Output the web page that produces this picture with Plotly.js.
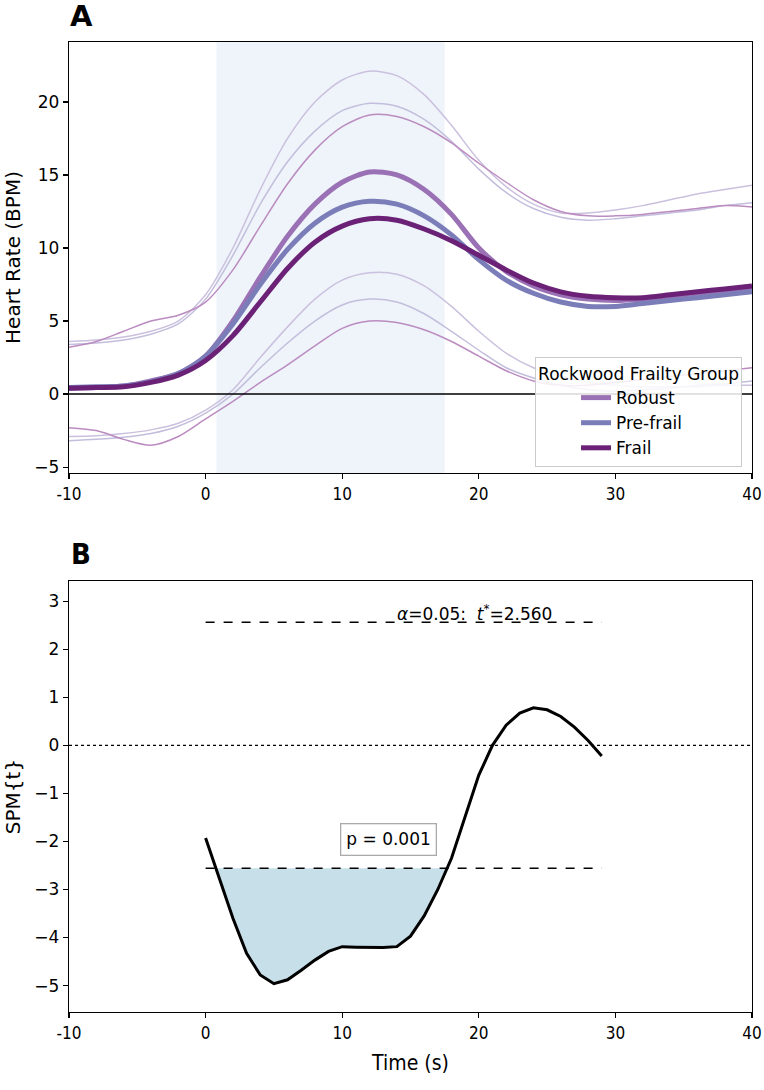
<!DOCTYPE html>
<html>
<head>
<meta charset="utf-8">
<script src="https://cdn.plot.ly/plotly-3.0.1.min.js"></script>
<style>html,body{margin:0;padding:0;background:#fff}#chart{width:764px;height:1090px}</style>
</head>
<body>
<div id="chart"></div>
<script>
// ---------- Panel A data (heart rate change, BPM) ----------
const time = [-10,-8,-6,-4,-2,0,2,4,6,8,10,12,14,16,18,20,22,24,26,28,30,32,34,36,38,40];
const groups = ["Robust","Pre-frail","Frail"];
const robustMean  = [0.4,0.45,0.55,0.9,1.4,2.6,5.0,8.0,10.8,13.0,14.5,15.2,15.0,14.0,12.3,10.0,8.4,7.4,6.8,6.5,6.4,6.5,6.7,6.9,7.1,7.3];
const prefrailMean= [0.45,0.5,0.55,0.85,1.4,2.6,4.8,7.5,9.9,11.7,12.8,13.2,13.0,12.2,10.9,9.2,7.8,6.9,6.3,6.0,6.0,6.2,6.4,6.6,6.8,7.0];
const frailMean   = [0.4,0.45,0.5,0.8,1.3,2.3,4.0,6.3,8.6,10.4,11.5,12.0,11.9,11.3,10.5,9.5,8.5,7.6,7.0,6.7,6.6,6.6,6.8,7.0,7.2,7.4];
const robustUpper  = [3.6,3.7,3.9,4.3,5.0,6.8,10.0,14.0,17.5,20.0,21.5,22.1,21.8,20.5,18.4,16.0,14.2,13.0,12.4,12.4,12.6,12.9,13.3,13.7,14.0,14.3];
const prefrailUpper= [3.4,3.5,3.7,4.1,4.8,6.5,9.5,13.0,15.9,18.0,19.4,19.9,19.7,18.8,17.3,15.4,13.8,12.7,12.1,11.9,12.0,12.2,12.4,12.6,12.9,13.1];
const frailUpper   = [3.2,3.6,4.3,5.0,5.4,6.3,8.5,11.5,14.4,16.7,18.3,19.1,19.0,18.3,17.2,15.8,14.5,13.3,12.5,12.2,12.2,12.3,12.5,12.7,12.9,12.8];
const robustLower  = [-2.9,-2.85,-2.7,-2.45,-2.0,-1.1,0.3,2.5,4.6,6.5,7.8,8.3,8.2,7.4,6.0,4.3,2.8,1.8,1.2,0.8,0.6,0.5,0.5,0.5,0.6,0.6];
const prefrailLower= [-3.2,-3.1,-2.95,-2.7,-2.2,-1.3,0.0,1.8,3.5,5.0,6.1,6.5,6.3,5.5,4.3,3.0,1.8,1.1,0.6,0.3,0.2,0.3,0.4,0.6,0.7,0.9];
const frailLower   = [-2.3,-2.5,-3.1,-3.5,-2.9,-1.7,-0.5,0.8,2.0,3.3,4.5,5.0,4.9,4.4,3.6,2.6,1.6,0.9,0.6,0.6,0.8,1.0,1.2,1.4,1.6,1.8];
const effortStart = 0.8, effortEnd = 17.5;

// ---------- Panel B data (SPM t statistic) ----------
const spmTime = [0,1,2,3,4,5,6,7,8,9,10,11,12,13,14,15,16,17,18,19,20,21,22,23,24,25,26,27,28,29];
const spmT = [-1.93,-2.78,-3.6,-4.33,-4.78,-4.96,-4.88,-4.68,-4.47,-4.29,-4.19,-4.2,-4.21,-4.21,-4.19,-3.97,-3.55,-3.0,-2.35,-1.5,-0.62,0.0,0.42,0.67,0.78,0.74,0.6,0.38,0.1,-0.22];
const tCrit = 2.560;
const alpha = 0.05;
const pValue = 0.001;
const xTicks = [-10,0,10,20,30,40];
const xTickText = ["-10","0","10","20","30","40"];

const meanColors = ["#9a71b4","#7b7db9","#6b2176"];
const ciColors = ["#cbc0de","#c3bedc","#bb8cc0"];
const means = [robustMean, prefrailMean, frailMean];
const uppers = [robustUpper, prefrailUpper, frailUpper];
const lowers = [robustLower, prefrailLower, frailLower];

const traces = [];
for (let g = 0; g < 3; g++) {
  [uppers[g], lowers[g]].forEach(arr => traces.push({
    x: time, y: arr, mode: "lines", type: "scatter", showlegend: false, hoverinfo: "skip",
    line: {color: ciColors[g], width: 1.5, shape: "spline", smoothing: 0.8}, xaxis: "x", yaxis: "y"
  }));
}
for (let g = 0; g < 3; g++) {
  traces.push({
    x: time, y: means[g], mode: "lines", type: "scatter", name: groups[g],
    line: {color: meanColors[g], width: 5, shape: "spline", smoothing: 0.8}, xaxis: "x", yaxis: "y"
  });
}

// suprathreshold cluster polygon
const fx = [], fy = [];
for (let i = 0; i < spmT.length; i++) {
  if (spmT[i] <= -tCrit) { fx.push(spmTime[i]); fy.push(spmT[i]); }
  if (i < spmT.length - 1) {
    const a = spmT[i] + tCrit, b = spmT[i+1] + tCrit;
    if (a * b < 0) {
      const xc = spmTime[i] + (spmTime[i+1] - spmTime[i]) * a / (a - b);
      fx.push(xc); fy.push(-tCrit);
    }
  }
}
traces.push({x: fx, y: fy, type: "scatter", mode: "lines", fill: "toself", fillcolor: "#c6dfe9",
  line: {width: 0, color: "rgba(0,0,0,0)"}, showlegend: false, hoverinfo: "skip", xaxis: "x2", yaxis: "y2"});
traces.push({x: [spmTime[0], spmTime[spmTime.length-1]], y: [tCrit, tCrit], type: "scatter", mode: "lines",
  line: {color: "black", width: 1.5, dash: "dash"}, showlegend: false, xaxis: "x2", yaxis: "y2"});
traces.push({x: [spmTime[0], spmTime[spmTime.length-1]], y: [-tCrit, -tCrit], type: "scatter", mode: "lines",
  line: {color: "black", width: 1.5, dash: "dash"}, showlegend: false, xaxis: "x2", yaxis: "y2"});
traces.push({x: spmTime, y: spmT, type: "scatter", mode: "lines",
  line: {color: "black", width: 3}, showlegend: false, xaxis: "x2", yaxis: "y2"});

const SANS = "DejaVu Sans, sans-serif";
const COND = "DejaVu Sans Condensed, Liberation Sans Narrow, DejaVu Sans, sans-serif";
const tickFont = {family: SANS, size: 17, color: "#000"};
const xTickFont = {family: COND, size: 17, color: "#000"};
const axisCommon = {showline: true, linecolor: "#000", linewidth: 1.3, mirror: true, ticks: "outside",
  ticklen: 5, tickwidth: 1.2, tickcolor: "#000", showgrid: false, zeroline: false};

const layout = {
  width: 764, height: 1090,
  margin: {l: 69, r: 12, t: 42, b: 78},
  paper_bgcolor: "#fff", plot_bgcolor: "#fff",
  font: {family: SANS, color: "#000"},
  xaxis: Object.assign({}, axisCommon, {domain: [0, 1], range: [-10, 40], anchor: "y",
    tickmode: "array", tickvals: xTicks, ticktext: xTickText, tickfont: xTickFont}),
  yaxis: Object.assign({}, axisCommon, {domain: [0.5557, 1], range: [-5.4, 24.1], anchor: "x",
    tickvals: [-5,0,5,10,15,20], tickfont: tickFont,
    title: {text: "Heart Rate (BPM)", font: {size: 20, family: SANS}, standoff: 8}}),
  xaxis2: Object.assign({}, axisCommon, {domain: [0, 1], range: [-10, 40], anchor: "y2",
    tickmode: "array", tickvals: xTicks, ticktext: xTickText, tickfont: xTickFont,
    title: {text: "Time (s)", font: {size: 21, family: COND}, standoff: 13}}),
  yaxis2: Object.assign({}, axisCommon, {domain: [0, 0.4443], range: [-5.55, 3.42], anchor: "x2",
    tickvals: [-5,-4,-3,-2,-1,0,1,2,3], tickfont: tickFont,
    title: {text: "SPM{t}", font: {size: 20, family: SANS}, standoff: 8}}),
  legend: {x: 0.9854, xanchor: "right", y: 0.6753, yanchor: "top",
    bgcolor: "rgba(255,255,255,0.85)", bordercolor: "#cccccc", borderwidth: 1,
    font: {size: 17, family: SANS}, indentation: 40,
    title: {text: "Rockwood Frailty Group", side: "top center", font: {size: 17, family: SANS}},
    tracegroupgap: 0},
  shapes: [
    {type: "rect", xref: "x", yref: "y domain", x0: effortStart, x1: effortEnd, y0: 0, y1: 1,
      fillcolor: "#eef4fa", line: {width: 0}, layer: "below"},
    {type: "line", xref: "x domain", yref: "y", x0: 0, x1: 1, y0: 0, y1: 0, line: {color: "#000", width: 1.5}},
    {type: "line", xref: "x2 domain", yref: "y2", x0: 0, x1: 1, y0: 0, y1: 0, line: {color: "#000", width: 1.3, dash: "dot"}}
  ],
  annotations: [
    {text: "<b>A</b>", xref: "paper", yref: "paper", x: 0.0176, y: 1.0268, xanchor: "center", yanchor: "middle", showarrow: false,
      font: {size: 29, family: SANS}},
    {text: "<b>B</b>", xref: "paper", yref: "paper", x: 0.0176, y: 0.472, xanchor: "center", yanchor: "middle", showarrow: false,
      font: {size: 29, family: COND}},
    {text: "<i>α</i>=" + alpha.toFixed(2) + ":  <i>t</i><sup>*</sup>=" + tCrit.toFixed(3), xref: "x2", yref: "y2",
      x: 19.7, y: tCrit, yanchor: "bottom", yshift: -4, showarrow: false, font: {size: 17, family: SANS}},
    {text: "p = " + pValue.toFixed(3), xref: "x2", yref: "y2", x: 13.4, y: -1.95, showarrow: false,
      bgcolor: "#fff", bordercolor: "#aaaaaa", borderwidth: 1.3, borderpad: 5,
      font: {size: 17, family: SANS}}
  ]
};

Plotly.newPlot("chart", traces, layout, {displayModeBar: false, staticPlot: true});
</script>
</body>
</html>
